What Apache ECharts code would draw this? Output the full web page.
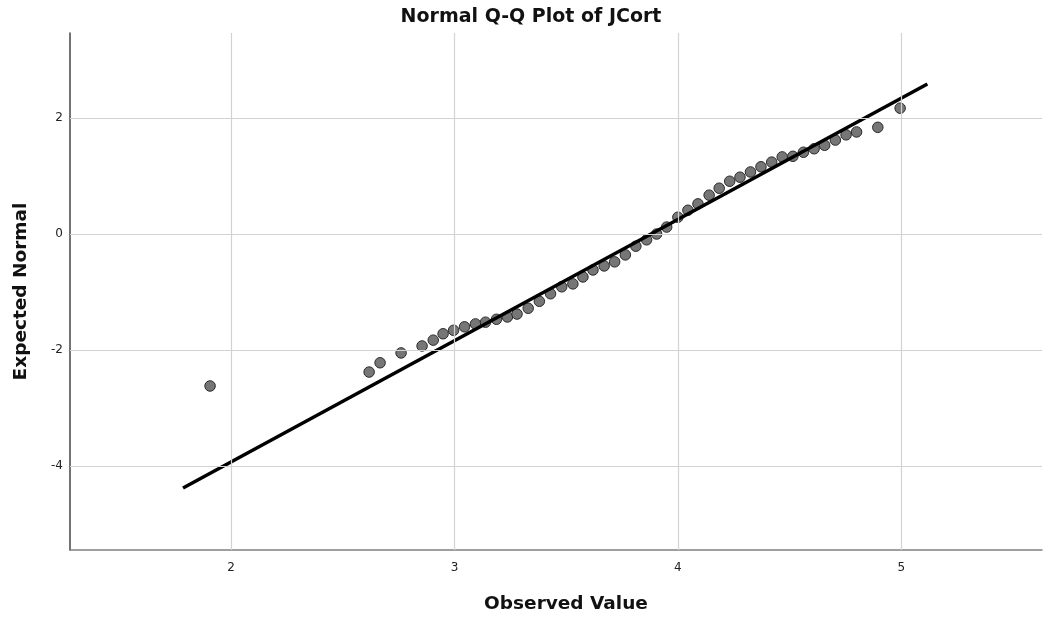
<!DOCTYPE html>
<html>
<head>
<meta charset="utf-8">
<script src="https://cdn.jsdelivr.net/npm/echarts@6/dist/echarts.min.js"></script>
<style>
html,body{margin:0;padding:0;background:#fff;}
#chart{width:1062px;height:619px;}
</style>
</head>
<body>
<div id="chart"></div>
<script>
// Observed values (x) and expected normal quantiles (y)
const observed = [1.906, 2.618, 2.667, 2.761, 2.855, 2.905, 2.949, 2.996, 3.045, 3.094, 3.139, 3.188, 3.237, 3.280, 3.330, 3.380, 3.430, 3.480, 3.530, 3.575, 3.620, 3.670, 3.717, 3.765, 3.812, 3.860, 3.905, 3.950, 4.000, 4.045, 4.090, 4.140, 4.185, 4.232, 4.278, 4.325, 4.372, 4.420, 4.467, 4.515, 4.562, 4.610, 4.657, 4.705, 4.753, 4.800, 4.895, 4.995];
const expected = [-2.62, -2.38, -2.22, -2.05, -1.93, -1.83, -1.72, -1.66, -1.60, -1.55, -1.52, -1.47, -1.43, -1.38, -1.28, -1.16, -1.03, -0.91, -0.86, -0.74, -0.62, -0.55, -0.48, -0.36, -0.21, -0.10, 0.00, 0.12, 0.29, 0.41, 0.52, 0.67, 0.79, 0.91, 0.98, 1.07, 1.16, 1.24, 1.33, 1.34, 1.41, 1.47, 1.53, 1.62, 1.71, 1.76, 1.84, 2.17];
// Reference line end points
const lineX = [1.785, 5.117];
const lineY = [-4.38, 2.586];
// Axis ticks
const xTicks = [2, 3, 4, 5];
const yTicks = [-4, -2, 0, 2];
const xRange = [1.279, 5.63];
const yRange = [-5.448, 3.466];

const points = observed.map((v, i) => [v, expected[i]]);
const linePts = lineX.map((v, i) => [v, lineY[i]]);
const gridLines = xTicks.map(v => ({xAxis: v})).concat(yTicks.map(v => ({yAxis: v})));

const font = 'DejaVu Sans';
const chart = echarts.init(document.getElementById('chart'));
chart.setOption({
  animation: false,
  backgroundColor: '#ffffff',
  title: {
    text: 'Normal Q-Q Plot of JCort',
    left: 'center',
    top: 3,
    textStyle: {fontFamily: font, fontWeight: 'bold', fontSize: 19, color: '#111'}
  },
  grid: {left: 70, right: 20, top: 33, bottom: 69, containLabel: false},
  xAxis: {
    type: 'value',
    min: xRange[0], max: xRange[1],
    name: 'Observed Value',
    nameLocation: 'middle',
    nameGap: 45,
    nameTextStyle: {fontFamily: font, fontWeight: 'bold', fontSize: 18.5, color: '#111', padding: [0, 0, 0, 20]},
    axisLine: {show: true, onZero: false, lineStyle: {color: '#808080', width: 1.5}},
    axisTick: {show: false, customValues: xTicks},
    axisLabel: {customValues: xTicks, fontFamily: font, fontSize: 12, color: '#222', margin: 12, formatter: v => String(v)},
    splitLine: {show: false}
  },
  yAxis: {
    type: 'value',
    min: yRange[0], max: yRange[1],
    name: 'Expected Normal',
    nameLocation: 'middle',
    nameRotate: 90,
    nameGap: 39,
    nameTextStyle: {fontFamily: font, fontWeight: 'bold', fontSize: 18.5, color: '#111'},
    axisLine: {show: true, onZero: false, lineStyle: {color: '#444', width: 1.5}},
    axisTick: {show: false, customValues: yTicks},
    axisLabel: {customValues: yTicks, fontFamily: font, fontSize: 12, color: '#222', margin: 7, formatter: v => String(v)},
    splitLine: {show: false}
  },
  series: [
    {
      type: 'scatter',
      data: [],
      silent: true,
      z: 1,
      markLine: {
        silent: true,
        symbol: ['none', 'none'],
        label: {show: false},
        animation: false,
        lineStyle: {color: '#d2d2d2', width: 1.2, type: 'solid'},
        emphasis: {disabled: true},
        data: gridLines
      }
    },
    {
      type: 'scatter',
      data: points,
      symbol: 'circle',
      symbolSize: 10.5,
      itemStyle: {color: '#767676', borderColor: '#2a2a2a', borderWidth: 1, opacity: 1},
      z: 2
    },
    {
      type: 'line',
      data: linePts,
      showSymbol: false,
      symbol: 'none',
      lineStyle: {color: '#000', width: 3.5},
      z: 3
    }
  ]
});
</script>
</body>
</html>
